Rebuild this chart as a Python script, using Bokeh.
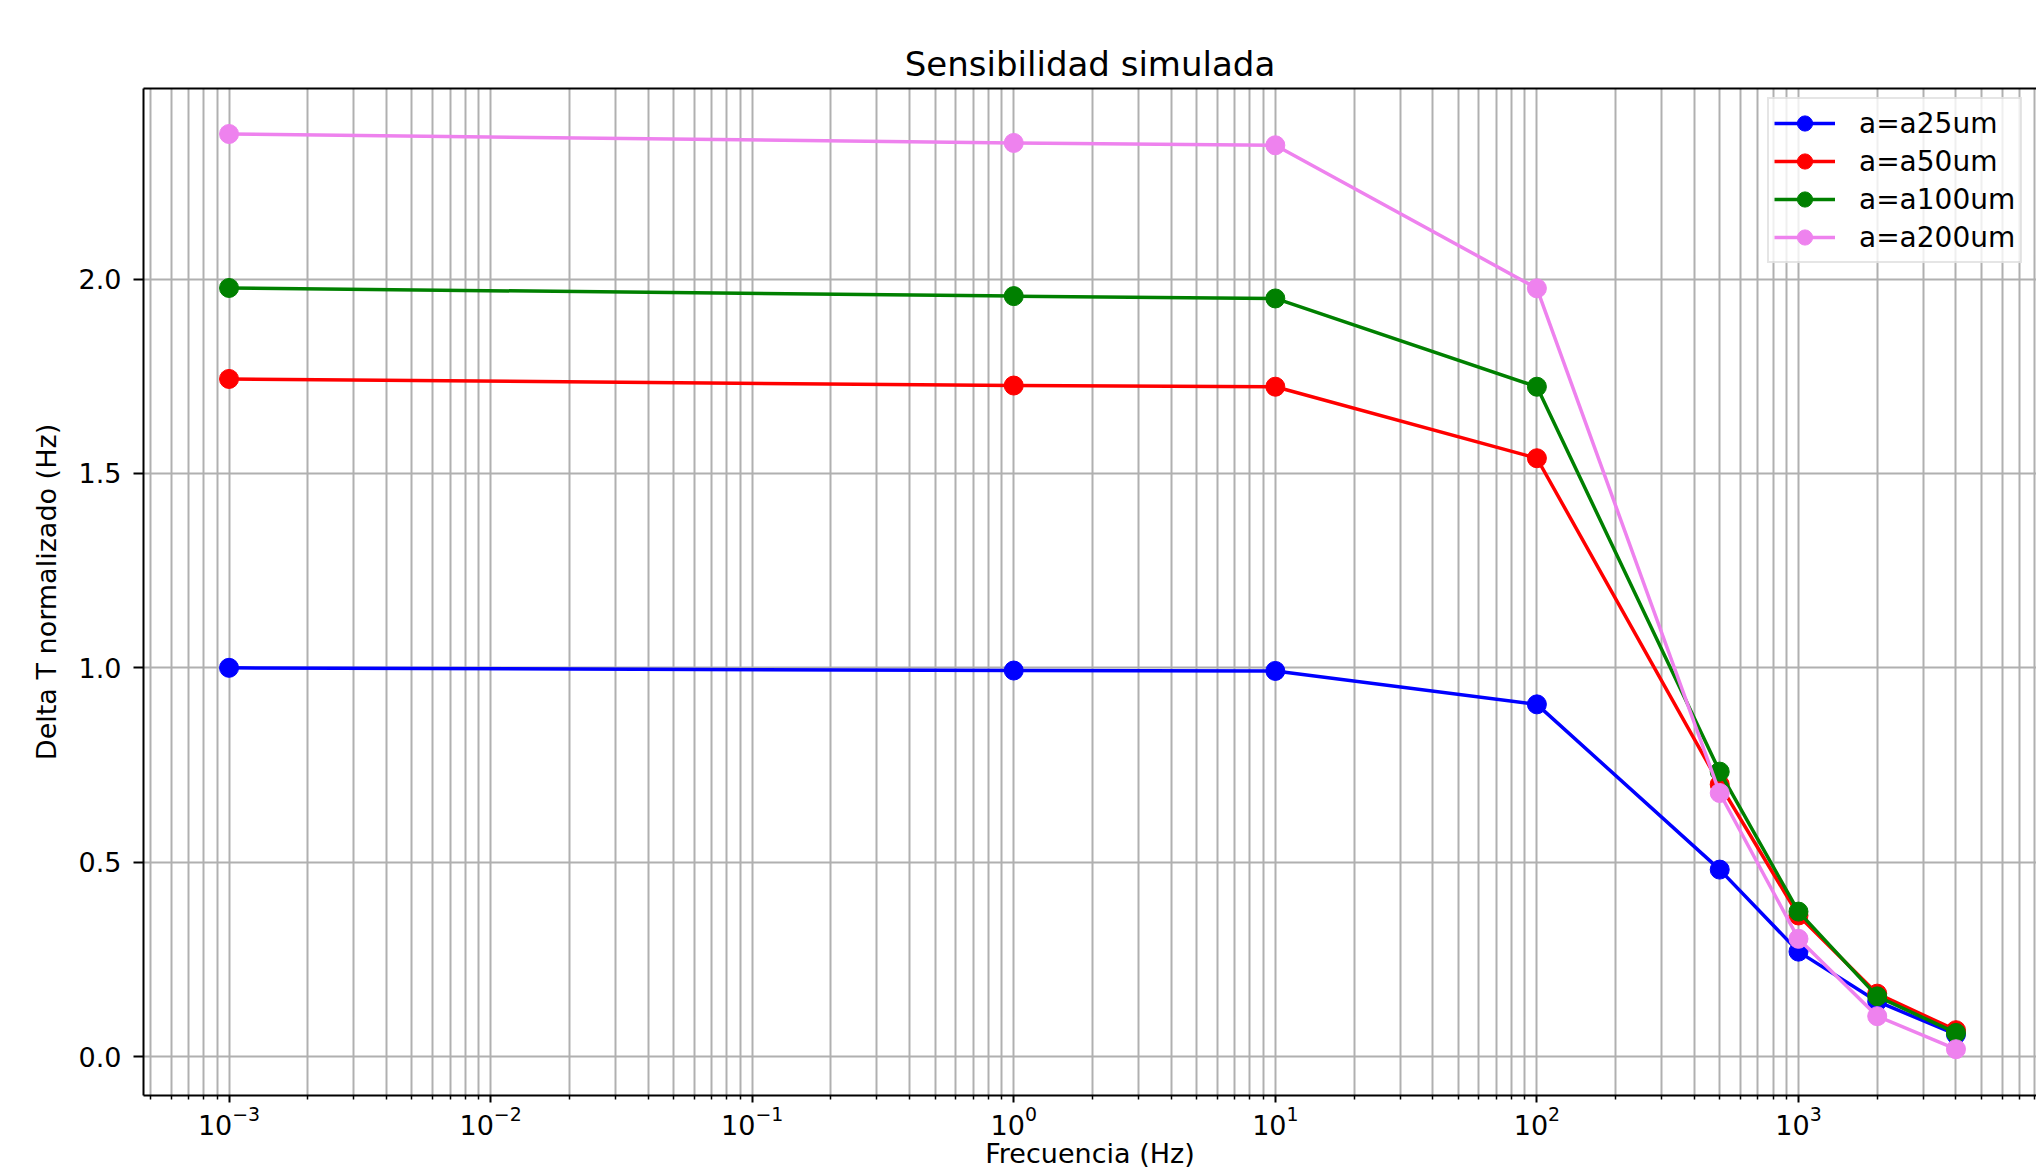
from bokeh.plotting import figure
from bokeh.models import Range1d, FixedTicker, LogAxis, Legend, LegendItem, NumeralTickFormatter
from bokeh.embed import file_html
from bokeh.resources import INLINE

# ---- data ----
freq = [0.001, 1, 10, 100, 500, 1000, 2000, 4000]
a25 = [1.000, 0.993, 0.992, 0.906, 0.481, 0.270, 0.142, 0.057]
a50 = [1.743, 1.726, 1.723, 1.539, 0.700, 0.363, 0.162, 0.068]
a100 = [1.977, 1.956, 1.950, 1.723, 0.733, 0.373, 0.155, 0.061]
a200 = [2.373, 2.350, 2.344, 1.976, 0.678, 0.303, 0.104, 0.019]

series_names = ["a=a25um", "a=a50um", "a=a100um", "a=a200um"]
series_values = [a25, a50, a100, a200]
series_colors = ["blue", "red", "green", "violet"]

x_major_ticks = [1e-3, 1e-2, 1e-1, 1, 10, 100, 1000]
y_ticks = [0.0, 0.5, 1.0, 1.5, 2.0]

title_text = "Sensibilidad simulada"
x_label = "Frecuencia (Hz)"
y_label = "Delta T normalizado (Hz)"

FONT = "DejaVu Sans"
GRID = "#b0b0b0"

p = figure(width=2036, height=1171, x_axis_type="log",
           x_range=Range1d(10 ** -3.327, 10 ** 3.91),
           y_range=Range1d(-0.1, 2.49),
           output_backend="svg", toolbar_location=None,
           min_border_left=143, min_border_top=88, min_border_right=0,
           min_border_bottom=0, title=title_text)

p.outline_line_color = None
p.background_fill_color = "white"
p.border_fill_color = "white"

p.title.text_font = FONT
p.title.text_font_size = "34px"
p.title.text_font_style = "normal"
p.title.align = "center"
p.title.text_color = "black"
p.title.standoff = 10

minor = [m * 10.0 ** e for e in range(-4, 4) for m in range(2, 10)]
p.xaxis.ticker = FixedTicker(ticks=x_major_ticks, minor_ticks=minor)
p.yaxis.ticker = FixedTicker(ticks=y_ticks, minor_ticks=[])
p.yaxis.formatter = NumeralTickFormatter(format="0.0")

for ax in (p.xaxis, p.yaxis):
    ax.axis_line_width = 2
    ax.axis_line_color = "black"
    ax.major_tick_line_width = 2
    ax.minor_tick_line_width = 1.5
    ax.major_tick_line_color = "black"
    ax.minor_tick_line_color = "black"
    ax.major_tick_in = 0
    ax.minor_tick_in = 0
    ax.major_label_text_font = FONT
    ax.major_label_text_font_size = "27px"
    ax.major_label_text_color = "black"
    ax.axis_label_text_font = FONT
    ax.axis_label_text_font_size = "27px"
    ax.axis_label_text_font_style = "normal"
    ax.axis_label_text_color = "black"

p.yaxis.major_tick_out = 10
p.yaxis.major_label_standoff = 12
p.yaxis.axis_label_standoff = 14
p.xaxis.major_tick_out = 7
p.xaxis.minor_tick_out = 4
p.xaxis.major_label_standoff = 3
p.xaxis.axis_label_standoff = 0
p.xaxis.axis_label = x_label
p.yaxis.axis_label = y_label

top_axis = LogAxis(ticker=FixedTicker(ticks=[], minor_ticks=[]),
                   major_tick_out=0, major_tick_in=0, minor_tick_out=0, minor_tick_in=0,
                   major_label_text_font_size="0px", major_label_standoff=0,
                   axis_line_width=2, axis_line_color="black")
p.add_layout(top_axis, "above")

p.xgrid.grid_line_color = GRID
p.xgrid.grid_line_width = 2
p.xgrid.minor_grid_line_color = GRID
p.xgrid.minor_grid_line_width = 2
p.ygrid.grid_line_color = GRID
p.ygrid.grid_line_width = 2

items = []
for name, vals, col in zip(series_names, series_values, series_colors):
    lr = p.line(freq, vals, line_color=col, line_width=3.5)
    sr = p.scatter(freq, vals, size=19, fill_color=col, line_color=col)
    items.append(LegendItem(label=name, renderers=[lr, sr]))

legend = Legend(items=items, location=(1624, 832))
legend.label_text_font = FONT
legend.label_text_font_size = "28px"
legend.label_text_color = "black"
legend.glyph_width = 61
legend.glyph_height = 38
legend.label_standoff = 24
legend.padding = 5
legend.spacing = 0
legend.margin = 0
legend.border_line_color = "#cccccc"
legend.border_line_width = 2
legend.background_fill_alpha = 0.8
p.add_layout(legend)

open("out.html", "w").write(file_html(p, INLINE))
